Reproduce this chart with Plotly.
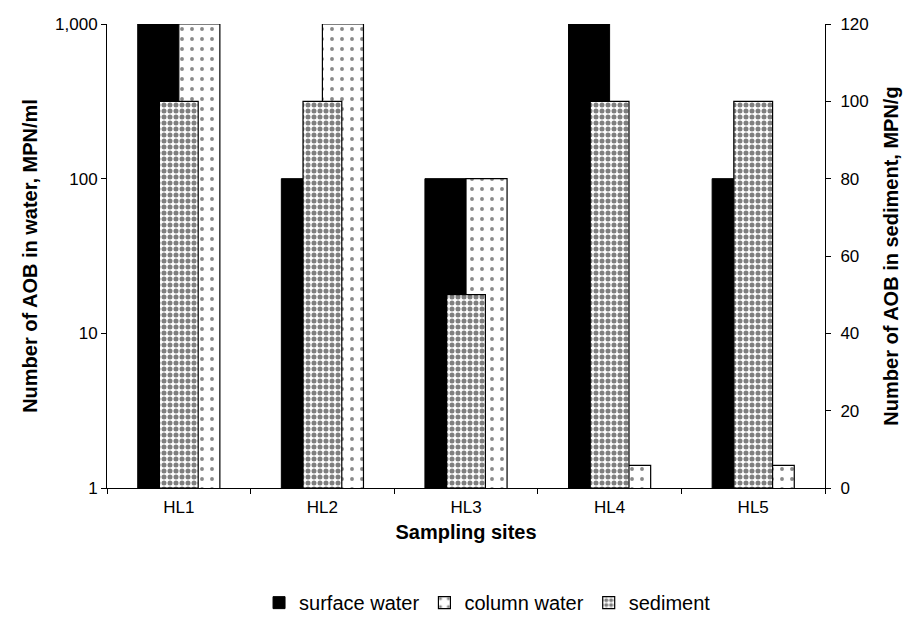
import plotly.graph_objects as go

sites = ["HL1", "HL2", "HL3", "HL4", "HL5"]
surface_water = [1000, 100, 100, 1000, 100]      # MPN/ml, left log axis
column_water = [1000, 1000, 100, 1.4, 1.4]       # MPN/ml, left log axis
sediment = [100, 100, 50, 100, 100]              # MPN/g, right axis

left_ticks = [1, 10, 100, 1000]
left_ticktext = ["1", "10", "100", "1,000"]
right_ticks = [0, 20, 40, 60, 80, 100, 120]

FONT = "Liberation Sans, Arial, sans-serif"
bw = 0.286

fig = go.Figure()
fig.add_trace(go.Bar(
    x=sites, y=surface_water, name="surface water",
    width=bw, offset=-bw, yaxis="y",
    marker=dict(color="black", line=dict(color="black", width=1)),
))
fig.add_trace(go.Bar(
    x=sites, y=column_water, name="column water",
    width=bw, offset=0, yaxis="y",
    marker=dict(color="white", line=dict(color="black", width=1.2),
                pattern=dict(shape=".", size=10, solidity=0.12,
                             fgcolor="#111111", bgcolor="white")),
))
fig.add_trace(go.Bar(
    x=sites, y=sediment, name="sediment",
    width=0.27, offset=-0.135, yaxis="y2",
    marker=dict(color="white", line=dict(color="black", width=1.2),
                pattern=dict(shape=".", size=6, solidity=0.55,
                             fgcolor="black", bgcolor="white")),
))

fig.update_layout(
    width=906, height=620,
    margin=dict(l=107, r=81, t=24, b=132),
    paper_bgcolor="white", plot_bgcolor="white",
    font=dict(family=FONT, size=17, color="black"),
    showlegend=True,
    legend=dict(orientation="h", x=0.53, xanchor="center",
                yref="container", y=0.028, yanchor="middle",
                font=dict(size=20), traceorder="normal", itemwidth=30),
    xaxis=dict(
        showline=True, linecolor="black", linewidth=1,
        ticks="outside", ticklen=5, tickson="boundaries",
        tickcolor="black", range=[-0.5, 4.5], automargin=False,
        tickfont=dict(size=17), ticklabelstandoff=4,
        title=dict(text="<b>Sampling sites</b>", font=dict(size=20), standoff=8),
    ),
    yaxis=dict(
        type="log", range=[0, 3], automargin=False,
        tickvals=left_ticks, ticktext=left_ticktext,
        showline=True, linecolor="black", linewidth=1,
        ticks="outside", ticklen=5, tickcolor="black",
        showgrid=False, zeroline=False,
        tickfont=dict(size=17),
        title=dict(text="<b>Number of AOB in water, MPN/ml</b>",
                   font=dict(size=20), standoff=12),
    ),
    yaxis2=dict(
        overlaying="y", side="right", range=[0, 120], automargin=False,
        tickvals=right_ticks,
        showline=True, linecolor="black", linewidth=1,
        ticks="outside", ticklen=5, tickcolor="black",
        showgrid=False, zeroline=False,
        tickfont=dict(size=17), ticklabelstandoff=6,
        title=dict(text="<b>Number of AOB in sediment, MPN/g</b>",
                   font=dict(size=20), standoff=16),
    ),
)

fig.write_html("out.html", config={"displayModeBar": False},
               post_script="document.body.style.margin='0';")
